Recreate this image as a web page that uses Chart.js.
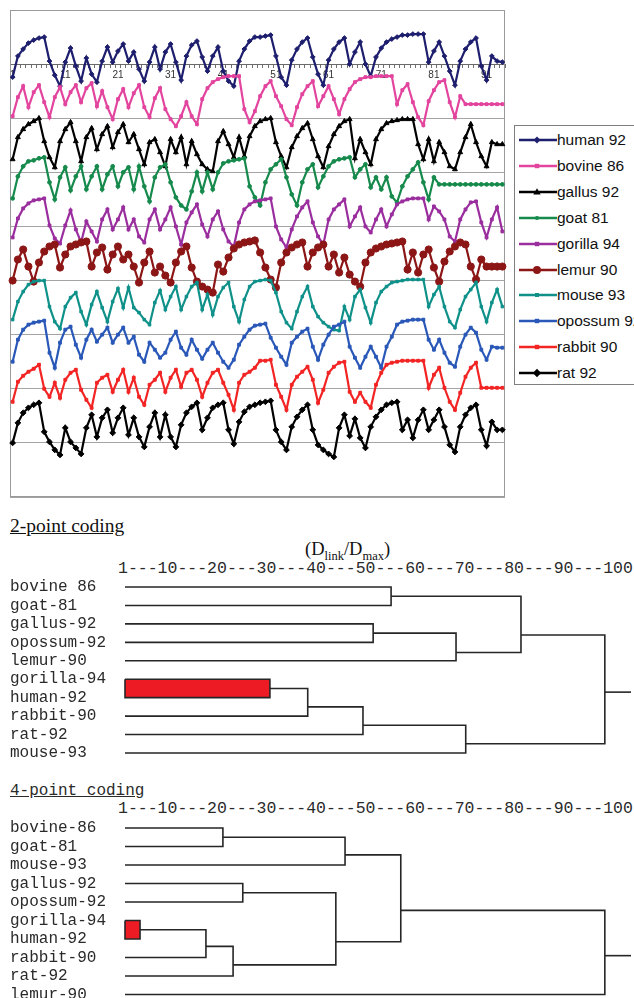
<!DOCTYPE html>
<html><head><meta charset="utf-8">
<script src="https://cdn.jsdelivr.net/npm/chart.js@4.4.1/dist/chart.umd.min.js"></script>
<style>
html,body{margin:0;padding:0;background:#fff;}
body{width:634px;height:998px;overflow:hidden;position:relative;}
.abs{position:absolute;}
#legend{left:514px;top:125px;width:150px;height:260px;border:1px solid #7f7f7f;box-sizing:border-box;background:#fff;}
.lgRow{position:absolute;left:0;height:20px;width:150px;white-space:nowrap;font-family:"Liberation Sans",Arial,sans-serif;font-size:15.5px;color:#111;line-height:20px;}
.lgRow svg{position:absolute;left:3px;top:4px;}
.lgRow span{position:absolute;left:42px;top:0;}
.ser{font-family:"Liberation Serif","Times New Roman",serif;color:#111;white-space:nowrap;}
.mono{font-family:"Liberation Mono","Courier New",monospace;font-size:16px;line-height:16px;color:#2a2a2a;white-space:nowrap;}
.scl{font-size:16.5px;}
</style></head>
<body>
<div class="abs" style="left:0;top:0;width:512px;height:505px;"><canvas id="top" width="512" height="505"></canvas></div>
<div id="legend" class="abs"></div>
<div class="abs ser" style="left:10px;top:516px;font-size:19.5px;line-height:20px;text-decoration:underline;">2-point coding</div>
<div class="abs ser" style="left:305px;top:539px;font-size:18.5px;line-height:20px;">(D<sub style="font-size:12.5px">link</sub>/D<sub style="font-size:12.5px">max</sub>)</div>
<div class="abs mono scl" id="scale2" style="left:118px;top:561px;"></div>
<div class="abs" style="left:0;top:570px;width:634px;height:200px;"><canvas id="d2" width="634" height="200"></canvas></div>
<div class="abs mono" style="left:10px;top:783px;text-decoration:underline;">4-point coding</div>
<div class="abs mono scl" id="scale4" style="left:118px;top:801px;"></div>
<div class="abs" style="left:0;top:800px;width:634px;height:204px;"><canvas id="d4" width="634" height="204"></canvas></div>
<script>
// ---------- top chart data ----------
const positions = [];
for (let i = 1; i <= 94; i++) positions.push(String(i));
const tickLabels = ['1','11','21','31','41','51','61','71','81','91'];
const seriesNames = ['human 92','bovine 86','gallus 92','goat 81','gorilla 94','lemur 90','mouse 93','opossum 92','rabbit 90','rat 92'];

const human = [-13,8,15,21,24,26,27,3,-11,-22, 2,16,-2,-17,6,-10,-18,3,17,2, 13,20,3,12,-5,-17,2,17,-5,12,
  20,2,-16,8,19,23,7,-7,8,17, -7,-17,-22,3,15,23,27, 27,28,29, 8,-13,-21,4,15,22,26,7,-10,-21,
  4,15,22,26,0,12,22,0,-12,7, 16,22,25,27,29,29,30,30,30,2, 13,22,8,-7,-21,3,15,22,26,-2, -16,8,3,2];
const bovine = [-52,-33,-22,-43,-28,-21,-38,-53,-33,-23, -40,-28,-21,-38,-24,-19,-42,-27,-43,-55,
  -35,-25,-43,-29,-21,-43,-53,-34,-24,-45, -55,-62,-52,-38,-52,-60,-35,-24,-18,-15,
  -13,-12,-12,-12,-45,-58,-47,-32,-22,-17, -32,-42,-55,-61,-43,-30,-22,-17,-42,-32,
  -22,-35,-50,-35,-25,-18,-15,-13,-13,-12, -12,-12,-12,-40,-26,-20,-38,-53,-61,-37,
  -26,-18,-16,-38,-53,-32,-40,-40,-40,-40, -40,-40,-40,-40];
const gallus = [-95,-73,-65,-60,-57,-54,-77,-93,-103,-77, -65,-58,-77,-97,-73,-64,-85,-70,-62,-83,
  -68,-60,-78,-70,-85,-100,-78,-75,-88,-102, -75,-88,-73,-100,-77,-90,-100,-105,-107,-77,
  -67,-80,-93,-73,-92,-72,-62, -57,-55,-54,-78,-92,-103,-83,-72,-64,-59,-75,-92,-103,
  -82,-70,-62,-57,-55,-94,-75,-88,-100,-75, -65,-59,-57,-56,-55,-55,-55,-80,-95,-75,
  -97,-78,-88,-102,-105,-88,-73,-60,-78,-92, -102,-78,-80,-80];
const goat = [-134,-112,-102,-97,-96,-94,-93,-118,-135,-113, -103,-126,-112,-102,-125,-112,-102,-125,-110,-102,
  -122,-108,-103,-125,-102,-122,-137,-113,-103,-100, -118,-133,-141,-145,-127,-108,-127,-108,-125,-108,
  -99,-97,-96,-95,-94,-122,-133,-141,-118,-105, -100,-95,-113,-130,-141,-118,-105,-100,-123,-112,
  -102,-97,-95,-94,-93,-113,-105,-100,-123,-113, -125,-113,-132,-138,-122,-112,-105,-98,-118,-135,
  -113,-120,-120,-120,-120,-120,-120,-120,-120,-120, -120,-120,-120,-120];
const gorilla = [-173,-154,-144,-139,-136,-135,-134,-161,-174,-179, -161,-146,-165,-178,-157,-167,-177,-155,-145,-165,
  -155,-143,-165,-155,-172,-178,-155,-145,-165,-155, -143,-162,-180,-158,-148,-140,-160,-172,-155,-147,
  -165,-177,-182,-158,-145,-140,-137,-136,-135,-134, -162,-175,-183,-165,-152,-143,-137,-158,-172,-180,
  -155,-145,-140,-135,-162,-152,-143,-162,-168,-155, -145,-162,-150,-140,-137,-135,-134,-134,-134,-155,
  -142,-147,-155,-172,-177,-155,-145,-138,-137,-158, -173,-155,-143,-167];
const lemur = [-216,-195,-185,-202,-217,-198,-187,-182,-180,-203, -190,-182,-180,-178,-177,-202,-188,-183,-205,-190,
  -182,-195,-190,-202,-218,-198,-187,-208,-202,-211, -218,-198,-187,-182,-203,-217,-222,-225,-228,-200,
  -207,-193,-184,-180,-178,-177,-176,-188,-203,-215, -223,-198,-188,-183,-180,-178,-202,-188,-183,-180,
  -202,-190,-208,-193,-210,-217,-222,-198,-188,-184, -182,-180,-179,-178,-177,-205,-188,-208,-190,-185,
  -203,-217,-197,-187,-182,-178,-180,-202,-215,-195, -202,-202,-202,-202];
const mouse = [-255,-237,-227,-220,-217,-216,-216,-242,-257,-264, -242,-233,-228,-247,-260,-240,-227,-243,-257,-237,
  -224,-243,-223,-243,-248,-255,-260,-238,-226,-245, -232,-222,-245,-232,-222,-218,-245,-230,-250,-232,
  -223,-218,-242,-257,-235,-222,-217,-216,-215,-216, -228,-247,-258,-264,-247,-232,-222,-242,-252,-258,
  -262,-265,-266,-242,-255,-232,-225,-243,-258,-238, -227,-222,-218,-217,-216,-215,-215,-215,-215,-242,
  -230,-222,-242,-257,-263,-245,-232,-225,-218,-242, -257,-238,-225,-242];
const opossum = [-297,-275,-265,-260,-258,-257,-256,-288,-303,-278, -265,-262,-280,-293,-275,-265,-277,-270,-263,-278,
  -270,-263,-278,-272,-290,-297,-278,-285,-293,-288, -275,-267,-283,-290,-275,-285,-294,-285,-278,-288,
  -297,-303,-295,-280,-272,-265,-261,-260,-259,-273, -283,-292,-300,-278,-272,-267,-264,-282,-295,-280,
  -270,-262,-260,-257,-282,-293,-303,-292,-282,-292, -303,-282,-272,-260,-257,-256,-255,-255,-255,-275,
  -285,-275,-288,-298,-302,-282,-270,-263,-268,-285, -295,-282,-283,-283];
const rabbit = [-337,-317,-311,-307,-304,-300,-324,-332,-318,-333, -315,-308,-305,-325,-335,-343,-318,-313,-310,-327,
  -315,-305,-327,-313,-332,-340,-320,-315,-308,-327, -313,-305,-322,-308,-305,-315,-332,-318,-308,-305,
  -318,-330,-345,-318,-310,-307,-303,-296,-296,-295, -320,-332,-345,-320,-312,-307,-302,-315,-338,-325,
  -308,-302,-298,-297,-327,-337,-328,-337,-343,-320, -308,-300,-298,-297,-296,-296,-296,-296,-296,-323,
  -310,-303,-323,-337,-345,-328,-312,-303,-298,-323, -323,-323,-323,-323];
const rat = [-378,-358,-348,-343,-340,-338,-367,-377,-385,-390, -363,-377,-383,-389,-363,-350,-372,-353,-345,-368,
  -353,-343,-370,-353,-372,-382,-362,-348,-372,-350, -372,-382,-360,-348,-342,-338,-365,-353,-343,-340,
  -338,-365,-379,-357,-347,-342,-340,-338,-337,-336, -365,-377,-385,-362,-352,-345,-340,-365,-380,-385,
  -389,-392,-363,-350,-371,-354,-373,-383,-362,-352, -345,-340,-338,-337,-365,-355,-373,-355,-345,-365,
  -355,-345,-362,-380,-387,-362,-350,-343,-340,-365, -381,-357,-365,-365];

const seriesData = [human, bovine, gallus, goat, gorilla, lemur, mouse, opossum, rabbit, rat];
const colors = ['#1e1e6e','#e2449e','#000000','#168a4c','#9a2e9e','#8c1616','#0f918a','#2a58b8','#f22424','#000000'];
const styles = ['rectRot','rect','triangle','circle','rect','circle','rect','rect','rect','rectRot'];
const radii = [2.4,2,2.8,1.9,2,3.6,1.8,2,2,2.9];

// ---------- dendrogram data ----------
const scaleTicks = ['1','10','20','30','40','50','60','70','80','90','100'];
const leaves2 = ['bovine 86','goat-81','gallus-92','opossum-92','lemur-90','gorilla-94','human-92','rabbit-90','rat-92','mouse-93'];
// [child A, child B, linkage distance, row of joined branch]
const merges2 = [[5,6,30.9,5.5],[0,1,55.9,0.5],[2,3,52.2,2.5],['c0',7,38.7,6.5],['c3',8,50.1,7.5],
  ['c2',4,69.3,3.55],['c1','c5',82.7,2.6],['c4',9,71.3,8.5],['c6','c7',100,5.7]];
const leaves4 = ['bovine-86','goat-81','mouse-93','gallus-92','opossum-92','gorilla-94','human-92','rabbit-90','rat-92','lemur-90'];
const merges4 = [[5,6,4.1,5.5],[0,1,21.2,0.5],['c0',7,17.7,6.4],['c2',8,23.3,7.4],[3,4,25.3,3.5],
  ['c4','c3',44.5,6.15],['c1',2,46.4,1.45],['c6','c5',57.9,4.45],['c7',9,100,6.9]];
const highlighted = 0;
const tailEnd = 105.4;

// ---------- top chart ----------
const framePlugin = {id:'frame', beforeDatasetsDraw(c){const a=c.chartArea,x=c.ctx;x.save();x.strokeStyle='#9a9a9a';x.lineWidth=1;
  x.strokeRect(Math.round(a.left)+0.5,Math.round(a.top)+0.5,Math.round(a.right-a.left)-1,Math.round(a.bottom-a.top)-1);x.restore();}};

const datasets = seriesData.map((d,k)=>({
  label: seriesNames[k], data: d, borderColor: colors[k], backgroundColor: colors[k],
  pointBackgroundColor: colors[k], pointBorderColor: colors[k], pointBorderWidth: 1,
  borderWidth: 2.2, pointStyle: styles[k], pointRadius: radii[k], tension: 0, order: 10-k
}));

new Chart(document.getElementById('top'), {
  type:'line',
  data:{labels: positions, datasets},
  options:{responsive:false, animation:false, devicePixelRatio:1,
    layout:{padding:{left:10, top:10, right:7, bottom:8}},
    plugins:{legend:{display:false}, tooltip:{enabled:false}},
    scales:{
      x:{type:'category', offset:true, position:{y:0},
         grid:{drawOnChartArea:false, drawTicks:true, tickLength:3, color:'#707070', offset:true},
         border:{display:true, color:'#6a6a6a', width:1},
         ticks:{autoSkip:false, maxRotation:0, minRotation:0, padding:2, color:'#333',
           font:{family:'Liberation Sans', size:10},
           callback:function(v){const l=this.getLabelForValue(v);return tickLabels.includes(l)?l:'';}}},
      y:{min:-432, max:54, afterFit:s=>{s.width=0;},
         ticks:{display:false, stepSize:54},
         grid:{color:'#a4a4a4', drawTicks:false, lineWidth:1},
         border:{display:false}}
    }
  },
  plugins:[framePlugin]
});

// ---------- legend ----------
function markerSvg(style, r, c){
  const cx=19, cy=6;
  if (style==='circle') return `<circle cx="${cx}" cy="${cy}" r="${r}" fill="${c}"/>`;
  if (style==='rect') return `<rect x="${cx-r}" y="${cy-r}" width="${2*r}" height="${2*r}" fill="${c}"/>`;
  if (style==='rectRot') {const q=r*1.3;return `<polygon points="${cx},${cy-q} ${cx+q},${cy} ${cx},${cy+q} ${cx-q},${cy}" fill="${c}"/>`;}
  const q=r*1.2;return `<polygon points="${cx},${cy-q} ${cx+q},${cy+q*0.7} ${cx-q},${cy+q*0.7}" fill="${c}"/>`;
}
const legendEl = document.getElementById('legend');
seriesNames.forEach((name,k)=>{
  const row=document.createElement('div'); row.className='lgRow'; row.style.top=(4+k*25.9)+'px';
  row.innerHTML=`<svg width="40" height="12"><line x1="1" y1="6" x2="39" y2="6" stroke="${colors[k]}" stroke-width="2.5"/>${markerSvg(styles[k],radii[k]*1.1,colors[k])}</svg><span>${name}</span>`;
  legendEl.appendChild(row);
});

// ---------- dendrograms ----------
document.getElementById('scale2').textContent = scaleTicks.join('---');
document.getElementById('scale4').textContent = scaleTicks.join('---');

function dendroSets(merges){
  const clusters=[];
  const node = r => typeof r==='number' ? {h:1, y:r} : clusters[Number(r.slice(1))];
  const sets=[];
  merges.forEach((m,k)=>{
    const A=node(m[0]), B=node(m[1]), h=m[2];
    if (k===highlighted){
      sets.push({data:[{x:A.h,y:A.y},{x:h,y:A.y},{x:h,y:B.y},{x:B.h,y:B.y},{x:A.h,y:A.y}], fill:'shape', backgroundColor:'#ed1c24'});
    } else {
      sets.push({data:[{x:A.h,y:A.y},{x:h,y:A.y},{x:h,y:B.y},{x:B.h,y:B.y}], fill:false});
    }
    clusters.push({h:h, y:m[3]});
  });
  const root=clusters[clusters.length-1];
  sets.push({data:[{x:root.h,y:root.y},{x:tailEnd,y:root.y}], fill:false});
  return sets.map(s=>Object.assign({showLine:true, pointRadius:0, borderColor:'#262626', borderWidth:1.6, clip:false, tension:0}, s));
}
function makeDendro(id, leaves, merges, padTop, padBottom){
  new Chart(document.getElementById(id), {
    type:'scatter',
    data:{datasets: dendroSets(merges)},
    options:{responsive:false, animation:false, devicePixelRatio:1,
      layout:{padding:{left:10, right:3, top:padTop, bottom:padBottom}},
      plugins:{legend:{display:false}, tooltip:{enabled:false}},
      scales:{
        x:{type:'linear', min:1, max:tailEnd, display:false},
        y:{type:'linear', min:-0.5, max:9.5, reverse:true,
           afterFit:s=>{s.width=115; s.paddingTop=0; s.paddingBottom=0;},
           afterBuildTicks:s=>{s.ticks=leaves.map((_,i)=>({value:i}));},
           ticks:{autoSkip:false, crossAlign:'far', padding:0, color:'#2a2a2a',
             font:{family:'Liberation Mono', size:16}, callback:v=>leaves[v]},
           grid:{display:false}, border:{display:false}}
      }
    }
  });
}
makeDendro('d2', leaves2, merges2, 7.8, 7.8);
makeDendro('d4', leaves4, merges4, 18.75, 0.25);
</script>
</body></html>
